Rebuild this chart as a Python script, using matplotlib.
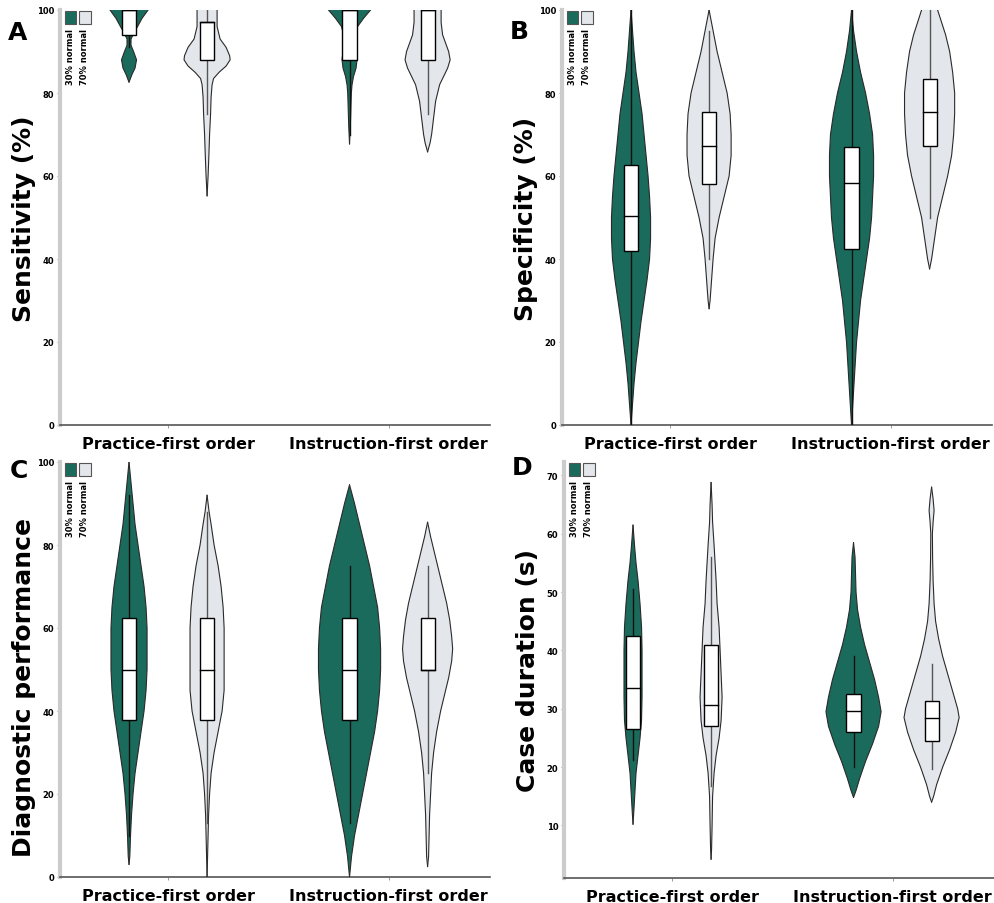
import numpy as np
import matplotlib
matplotlib.use("Agg")
import matplotlib.pyplot as plt
from matplotlib.patches import Rectangle

plt.rcParams['font.family'] = ['DejaVu Sans']

# ---------------- data ----------------
groups = ["Practice-first order", "Instruction-first order"]
conditions = ["30% normal", "70% normal"]
panel_letters = ["A", "B", "C", "D"]
y_labels = ["Sensitivity (%)", "Specificity (%)", "Diagnostic performance", "Case duration (s)"]
y_ticks_pct = [0, 20, 40, 60, 80, 100]
y_ticks_dur = [10, 20, 30, 40, 50, 60, 70]

# Violin outlines: value levels (top to bottom) and density half-widths
# Box summaries: [whisker low, Q1, median, Q3, whisker high]

# Sensitivity
sens_prac30_y = [100, 98, 96, 94.5, 93, 91.5, 90, 88, 86, 84.5, 82.6]
sens_prac30_w = [19, 13, 8.5, 5, 2, 2, 4.5, 7.5, 6, 3, 0]
sens_prac30_box = [91, 94, 100, 100, 100]
sens_prac70_y = [100, 96, 93, 91, 89, 88, 86.5, 85, 83.5, 82, 79, 75, 70, 65, 60, 55.2]
sens_prac70_w = [10, 10, 13, 19, 22.5, 23, 19, 12, 6.5, 5, 4, 3.5, 2.5, 1.8, 1, 0]
sens_prac70_box = [75, 88, 97, 97, 100]
sens_inst30_y = [100, 98, 96, 94, 92, 90, 88, 86, 84, 82, 80, 76, 72, 67.7]
sens_inst30_w = [21, 14, 8, 6, 6, 6.5, 7.5, 6.5, 4, 2.5, 1.8, 1.3, 0.8, 0]
sens_inst30_box = [70, 88, 100, 100, 100]
sens_inst70_y = [100, 97, 94, 92, 90, 88, 86, 84, 82, 80, 78, 76, 74, 72, 70, 68, 65.8]
sens_inst70_w = [13.5, 13.5, 15, 18, 21, 22.5, 20, 16, 12, 10, 8, 7, 6, 5, 4, 2.5, 0]
sens_inst70_box = [75, 88, 100, 100, 100]

# Specificity
spec_prac30_y = [100, 95, 90, 85, 80, 75, 70, 65, 60, 55, 50, 45, 40, 35, 30, 25, 20, 15, 10, 5, 0]
spec_prac30_w = [0, 1.5, 3, 5, 8, 11, 13, 15, 17, 18.5, 19.5, 19.5, 18.5, 16, 13, 10, 7.5, 5, 3, 1.5, 0]
spec_prac30_box = [0, 42, 50.4, 62.7, 100]
spec_prac70_y = [100, 95, 90, 85, 80, 75, 70, 65, 60, 55, 50, 45, 40, 35, 30, 28]
spec_prac70_w = [0, 4, 8, 13, 18, 21, 22, 22, 20, 15, 10, 6, 4, 2.5, 1, 0]
spec_prac70_box = [40, 58, 67.2, 75.4, 95]
spec_inst30_y = [100, 95, 90, 85, 80, 75, 70, 65, 60, 55, 50, 45, 40, 35, 30, 20, 10, 0]
spec_inst30_w = [0, 2, 5, 9, 14, 18, 21, 22, 22, 21, 20, 18, 15, 12, 9, 5, 2.5, 0]
spec_inst30_box = [0, 42.4, 58.3, 67, 100]
spec_inst70_y = [100, 97, 94, 90, 85, 80, 75, 70, 65, 60, 55, 50, 45, 40, 37.6]
spec_inst70_w = [8, 12, 16, 20, 23, 25, 25, 24, 22, 18, 13, 8, 5, 2, 0]
spec_inst70_box = [50, 67.2, 75.4, 83.4, 100]

# Diagnostic performance
diag_prac30_y = [100, 95, 90, 85, 80, 75, 70, 65, 60, 55, 50, 45, 40, 35, 30, 25, 20, 15, 10, 5, 3]
diag_prac30_w = [0, 2, 4, 6, 9, 12, 15, 17, 18, 18, 18, 17, 15, 12, 9, 6, 4, 2.5, 1.5, 0.8, 0]
diag_prac30_box = [10, 37.8, 50, 62.5, 92]
diag_prac70_y = [92, 88, 85, 80, 75, 70, 65, 60, 55, 50, 45, 40, 35, 30, 25, 20, 15, 10, 5, 0]
diag_prac70_w = [0, 2, 4, 7, 11, 14, 16, 17, 17, 17, 17, 15, 11, 7, 4, 2.5, 1.5, 1, 0.5, 0]
diag_prac70_box = [13, 37.8, 50, 62.5, 88]
diag_inst30_y = [94.5, 90, 85, 80, 75, 70, 65, 60, 55, 50, 45, 40, 35, 30, 25, 20, 15, 10, 5, 0]
diag_inst30_w = [0, 5, 10, 15, 20, 24, 28, 30, 31, 31, 30, 28, 25, 21, 17, 13, 9, 5, 2, 0]
diag_inst30_box = [13, 37.8, 50, 62.5, 75]
diag_inst70_y = [85.5, 82, 78, 74, 70, 66, 62, 58, 55, 52, 48, 44, 40, 35, 30, 25, 20, 15, 10, 5, 2.5]
diag_inst70_w = [0, 3, 7, 11, 15, 19, 22, 24, 25, 24, 21, 17, 13, 9, 6, 4, 3, 2, 1.5, 1, 0]
diag_inst70_box = [25, 50, 50, 62.5, 75]

# Case duration
dur_prac30_y = [61.5, 58, 55, 52, 48, 44, 40, 36, 32, 28, 25, 22, 19, 16, 13, 10.2]
dur_prac30_w = [0, 1.5, 3, 5, 7, 8.5, 9, 9, 9, 8.5, 7, 5, 3, 2, 1, 0]
dur_prac30_box = [21.3, 26.5, 33.6, 42.4, 50.5]
dur_prac70_y = [68.8, 65, 62, 58, 55, 52, 48, 44, 40, 36, 32, 28, 25, 22, 19, 15, 10, 6, 4.2]
dur_prac70_w = [0, 1, 1.5, 3, 4, 5, 6, 8, 9, 10, 11, 10, 8, 5, 3, 1.5, 1, 0.5, 0]
dur_prac70_box = [16.7, 27, 30.7, 40.9, 56]
dur_inst30_y = [58.5, 56, 53, 50, 47, 44, 41, 38, 35, 32, 29.5, 27, 24, 21, 18, 16, 14.8]
dur_inst30_w = [0, 1.5, 2, 2.5, 4, 7, 11, 16, 21, 25, 27.5, 25, 19, 12, 6, 2.5, 0]
dur_inst30_box = [20, 26.1, 29.6, 32.5, 39]
dur_inst70_y = [68, 66, 64, 62, 60, 56, 52, 48, 45, 42, 39, 36, 33, 30, 28.5, 26, 23, 20, 17, 15, 14]
dur_inst70_w = [0, 1.5, 2.5, 1.5, 0.8, 1, 1.5, 2.5, 4, 7, 11, 16, 21, 26, 27.5, 24, 18, 11, 5, 2, 0]
dur_inst70_box = [19.6, 24.4, 28.5, 31.3, 37.6]

# ---------------- style ----------------
GREEN = "#1a6b5b"
LIGHT = "#e3e6ea"
EDGE = "#2a2a2a"
DENSITY_SCALE = 1 / 220.0   # density half-width units -> x data units
BOX_HALF = 0.032
OFFSET = 0.177
XLIM = (-0.49, 1.46)

W, H = 995, 904
fig = plt.figure(figsize=(W / 100, H / 100), dpi=100)


def rect(left, top, right, bottom):
    return [left / W, 1 - bottom / H, (right - left) / W, (bottom - top) / H]


axes_rects = [rect(60, 11, 490, 426), rect(562, 11, 992, 426),
              rect(60, 463, 490, 878), rect(564, 463, 994, 879)]
ylims = [(0, 100), (0, 100), (0, 100), (1.0, 72.3)]
yticks = [y_ticks_pct, y_ticks_pct, y_ticks_pct, y_ticks_dur]
letter_pos = [(18, 33), (519, 32), (19, 471), (522, 468)]
label_y = [0.5, 0.5, 0.46, 0.5]

panels = [
    [(sens_prac30_y, sens_prac30_w, sens_prac30_box), (sens_prac70_y, sens_prac70_w, sens_prac70_box),
     (sens_inst30_y, sens_inst30_w, sens_inst30_box), (sens_inst70_y, sens_inst70_w, sens_inst70_box)],
    [(spec_prac30_y, spec_prac30_w, spec_prac30_box), (spec_prac70_y, spec_prac70_w, spec_prac70_box),
     (spec_inst30_y, spec_inst30_w, spec_inst30_box), (spec_inst70_y, spec_inst70_w, spec_inst70_box)],
    [(diag_prac30_y, diag_prac30_w, diag_prac30_box), (diag_prac70_y, diag_prac70_w, diag_prac70_box),
     (diag_inst30_y, diag_inst30_w, diag_inst30_box), (diag_inst70_y, diag_inst70_w, diag_inst70_box)],
    [(dur_prac30_y, dur_prac30_w, dur_prac30_box), (dur_prac70_y, dur_prac70_w, dur_prac70_box),
     (dur_inst30_y, dur_inst30_w, dur_inst30_box), (dur_inst70_y, dur_inst70_w, dur_inst70_box)],
]


def draw_violin(ax, x, ys, ws, box, face, whisker_color):
    ys = np.asarray(ys, float)
    hw = np.asarray(ws, float) * DENSITY_SCALE
    ax.fill_betweenx(ys, x - hw, x + hw, facecolor=face, edgecolor="none", zorder=2)
    ax.plot(x - hw, ys, color=EDGE, lw=0.8, zorder=3, solid_capstyle="round")
    ax.plot(x + hw, ys, color=EDGE, lw=0.8, zorder=3, solid_capstyle="round")
    lo, q1, med, q3, hi = box
    ax.plot([x, x], [lo, q1], color=whisker_color, lw=1.0, zorder=3)
    ax.plot([x, x], [q3, hi], color=whisker_color, lw=1.0, zorder=3)
    ax.add_patch(Rectangle((x - BOX_HALF, q1), 2 * BOX_HALF, q3 - q1, facecolor="white",
                           edgecolor="black", lw=1.0, zorder=4))
    ax.plot([x - BOX_HALF, x + BOX_HALF], [med, med], color="black", lw=1.0, zorder=5)


for i in range(4):
    ax = fig.add_axes(axes_rects[i])
    violins = panels[i]
    for g in range(len(groups)):
        for c in range(len(conditions)):
            ys, ws, box = violins[g * 2 + c]
            x = g + (-OFFSET if c == 0 else OFFSET)
            face = GREEN if c == 0 else LIGHT
            wcol = "#111111" if c == 0 else "#555555"
            draw_violin(ax, x, ys, ws, box, face, wcol)

    ax.set_xlim(*XLIM)
    ax.set_ylim(*ylims[i])
    ax.set_xticks(range(len(groups)))
    ax.set_xticklabels(groups, fontsize=11.5, fontweight="bold")
    ax.set_yticks(yticks[i])
    ax.set_yticklabels([str(t) for t in yticks[i]], fontsize=6, fontweight="bold")
    ax.tick_params(axis="x", length=2, width=0.6, color="#888888", pad=6)
    ax.tick_params(axis="y", length=2, width=0.6, color="#888888", pad=2)
    for s in ("top", "right"):
        ax.spines[s].set_visible(False)
    ax.spines["left"].set_color("#cccccc")
    ax.spines["left"].set_linewidth(3.0)
    ax.spines["bottom"].set_color("#555555")
    ax.spines["bottom"].set_linewidth(1.2)

    ax.set_ylabel(y_labels[i], fontsize=18, fontweight="bold")
    ax.yaxis.set_label_coords(-0.055, label_y[i])

    # legend: colour squares with vertical labels
    for c, (lx, face) in enumerate(zip([0.024, 0.058], [GREEN, LIGHT])):
        ax.add_patch(Rectangle((lx - 0.013, 0.967), 0.026, 0.03, transform=ax.transAxes,
                               facecolor=face, edgecolor="#555555", lw=0.8, clip_on=False, zorder=6))
        ax.text(lx, 0.957, conditions[c], transform=ax.transAxes, rotation=90,
                ha="center", va="top", fontsize=6, fontweight="bold")

    fig.text(letter_pos[i][0] / W, 1 - letter_pos[i][1] / H, panel_letters[i],
             fontsize=18, fontweight="bold", ha="center", va="center")

fig.savefig("out.png", dpi=100)
